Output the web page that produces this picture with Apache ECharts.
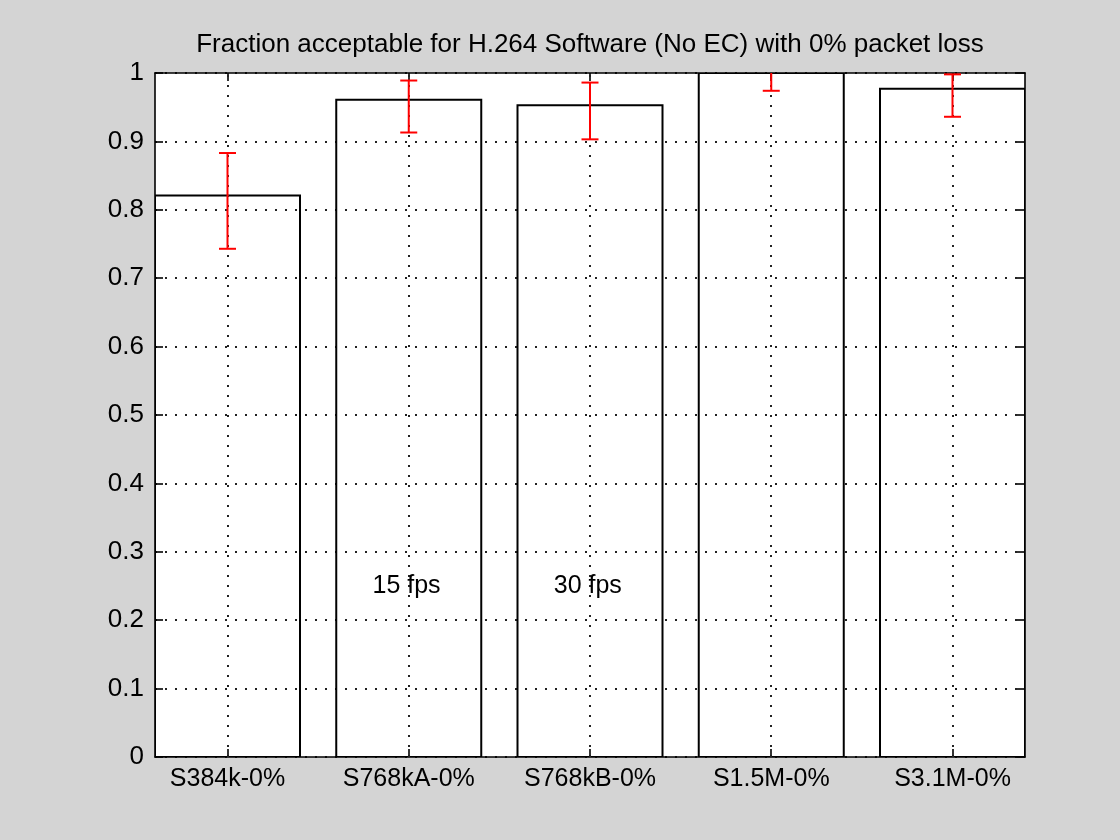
<!DOCTYPE html>
<html>
<head>
<meta charset="utf-8">
<script src="https://cdn.jsdelivr.net/npm/echarts@6/dist/echarts.min.js"></script>
<style>
html,body{margin:0;padding:0;background:#d4d4d4;}
#chart{width:1120px;height:840px;}
</style>
</head>
<body>
<div id="chart"></div>
<script>
var titleText = 'Fraction acceptable for H.264 Software (No EC) with 0% packet loss';
var categories = ['S384k-0%', 'S768kA-0%', 'S768kB-0%', 'S1.5M-0%', 'S3.1M-0%'];
var positions = [1, 2, 3, 4, 5];
var fractions = [0.821, 0.961, 0.953, 1.0, 0.977];
var lowerBounds = [0.743, 0.913, 0.903, 0.974, 0.936];
var upperBounds = [0.883, 0.989, 0.986, 1.026, 0.998];
var yTicks = [0, 0.1, 0.2, 0.3, 0.4, 0.5, 0.6, 0.7, 0.8, 0.9, 1];
var noteX = [1.8, 2.8];
var noteY = [0.25, 0.25];
var noteText = ['15 fps', '30 fps'];

var FONT = 'Arial, "Liberation Sans", Helvetica, sans-serif';
var BAR_WIDTH = 0.8;

var barData = positions.map(function (p, i) { return [p, fractions[i]]; });
var errData = positions.map(function (p, i) { return [p, lowerBounds[i], upperBounds[i]]; });
var noteData = noteX.map(function (x, i) { return [x, noteY[i], noteText[i]]; });

var chart = echarts.init(document.getElementById('chart'), null, {renderer: 'canvas'});

var dots = [2, 8];
var AX = {color: '#000', width: 1.6};

var option = {
  backgroundColor: '#d4d4d4',
  animation: false,
  title: {
    text: titleText,
    left: 585,
    textAlign: 'center',
    top: 27,
    textStyle: {fontFamily: FONT, fontSize: 26, fontWeight: 'normal', color: '#000'}
  },
  grid: {
    left: 155, top: 73, right: 95, bottom: 83,
    show: true, backgroundColor: '#ffffff', borderWidth: 0
  },
  xAxis: [{
    type: 'value', min: 0.6, max: 5.4, position: 'bottom',
    axisLine: {show: true, onZero: false, lineStyle: AX},
    axisTick: {show: true, inside: true, length: 8, customValues: positions, lineStyle: AX},
    axisLabel: {
      show: true, margin: 10, customValues: positions,
      fontFamily: FONT, fontSize: 25, color: '#000',
      formatter: function (v) { var i = positions.indexOf(Math.round(v)); return i >= 0 ? categories[i] : ''; }
    },
    splitLine: {show: false}
  }, {
    type: 'value', min: 0.6, max: 5.4, position: 'top',
    axisLine: {show: true, onZero: false, lineStyle: AX},
    axisTick: {show: true, inside: true, length: 8, customValues: positions, lineStyle: AX},
    axisLabel: {show: false},
    splitLine: {show: false}
  }],
  yAxis: [{
    type: 'value', min: 0, max: 1, interval: 0.1, position: 'left',
    axisLine: {show: true, onZero: false, lineStyle: AX},
    axisTick: {show: true, inside: true, length: 8, lineStyle: AX},
    axisLabel: {
      show: true, margin: 11, fontFamily: FONT, fontSize: 26, color: '#000',
      formatter: function (v) { return String(Math.round(v * 10) / 10); }
    },
    splitLine: {show: true, lineStyle: {color: '#222', width: 2, type: dots}}
  }, {
    type: 'value', min: 0, max: 1, interval: 0.1, position: 'right',
    axisLine: {show: true, onZero: false, lineStyle: AX},
    axisTick: {show: true, inside: true, length: 8, lineStyle: AX},
    axisLabel: {show: false},
    splitLine: {show: false}
  }],
  series: [{
    type: 'custom',
    name: 'bars',
    xAxisIndex: 0, yAxisIndex: 0,
    clip: true,
    z: 3,
    data: barData,
    renderItem: function (params, api) {
      var x = api.value(0), v = api.value(1);
      var p1 = api.coord([x - BAR_WIDTH / 2, v]);
      var p2 = api.coord([x + BAR_WIDTH / 2, 0]);
      return {
        type: 'rect',
        shape: {x: p1[0], y: p1[1], width: p2[0] - p1[0], height: p2[1] - p1[1]},
        style: {fill: 'none', stroke: '#000', lineWidth: 2}
      };
    },
    markLine: {
      silent: true,
      symbol: ['none', 'none'],
      label: {show: false},
      lineStyle: {color: '#222', width: 2, type: dots},
      data: positions.map(function (p) { return {xAxis: p}; })
    }
  }, {
    type: 'custom',
    name: 'errors',
    xAxisIndex: 0, yAxisIndex: 0,
    clip: true,
    z: 5,
    data: errData,
    renderItem: function (params, api) {
      var x = api.value(0);
      var lo = api.coord([x, api.value(1)]);
      var hi = api.coord([x, api.value(2)]);
      var cap = 8.5;
      var st = {stroke: '#ff0000', lineWidth: 2};
      return {
        type: 'group',
        children: [
          {type: 'line', shape: {x1: lo[0], y1: lo[1], x2: hi[0], y2: hi[1]}, style: st},
          {type: 'line', shape: {x1: lo[0] - cap, y1: lo[1], x2: lo[0] + cap, y2: lo[1]}, style: st},
          {type: 'line', shape: {x1: hi[0] - cap, y1: hi[1], x2: hi[0] + cap, y2: hi[1]}, style: st}
        ]
      };
    }
  }, {
    type: 'custom',
    name: 'notes',
    xAxisIndex: 0, yAxisIndex: 0,
    z: 6,
    data: noteData,
    renderItem: function (params, api) {
      var p = api.coord([api.value(0), api.value(1)]);
      return {
        type: 'text',
        x: p[0], y: p[1],
        style: {
          text: noteText[params.dataIndex],
          fontFamily: FONT, fontSize: 25, fill: '#000',
          align: 'left', verticalAlign: 'middle'
        }
      };
    }
  }]
};

chart.setOption(option);
</script>
</body>
</html>
